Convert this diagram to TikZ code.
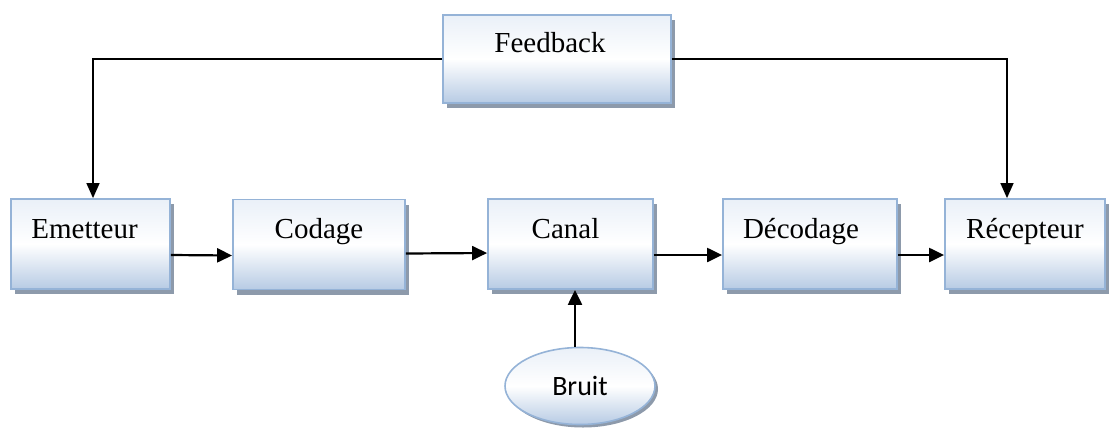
\documentclass[tikz,border=0pt]{standalone}
\usepackage{fontspec}
\setmainfont{Liberation Serif}
\newfontfamily\bruitfont{Carlito}
\usetikzlibrary{shapes.geometric,shadows,arrows.meta}
\definecolor{boxline}{HTML}{95B3D7}
\definecolor{boxfill}{HTML}{B7CBE4}
\definecolor{boxtop}{HTML}{EAF0F8}
\definecolor{shadowgray}{HTML}{8D9AAB}

\begin{document}
\begin{tikzpicture}[x=1pt,y=-1pt,
    bloc/.style={rectangle, draw=boxline, line width=1.8pt, top color=boxtop, bottom color=boxfill,
        middle color=white, inner sep=0pt, text height=39pt, text depth=51pt,
        font=\fontsize{29}{34}\selectfont,
        drop shadow={opacity=1, fill=shadowgray, shadow xshift=4pt, shadow yshift=-5pt}},
    conn/.style={line width=2.2pt, -{Triangle[length=15pt,width=14pt]}},
    retour/.style={line width=1.4pt, -{Triangle[length=15pt,width=13pt]}}]
		\useasboundingbox (0,0) rectangle (1114,429);

		\node[bloc, minimum width=228pt, text height=37pt, text depth=51pt] (fb) at (557,59){Feedback\hspace*{14pt}};

		\node[bloc, minimum width=159pt] (emet) at (90.5,244){Emetteur\hspace*{12pt}};
		\node[bloc, minimum width=172pt] (cod) at (319,244.5){Codage};
		\node[bloc, minimum width=165pt] (canal) at (570.5,244){Canal\hspace*{10pt}};
		\node[bloc, minimum width=174pt] (decod) at (810,244){D\'ecodage\hspace*{18pt}};
		\node[bloc, minimum width=160pt] (rec) at (1025,244){R\'ecepteur};

		\node[ellipse, draw=boxline, line width=1.6pt, top color=boxtop, bottom color=boxfill,
		    middle color=white, minimum width=150pt, minimum height=77pt, inner sep=0pt,
		    font=\bruitfont\fontsize{28}{34}\selectfont,
		    drop shadow={opacity=1, fill=shadowgray, shadow xshift=3pt, shadow yshift=-3pt}] (bruit) at (580,386){Bruit};

		\draw[conn] ([yshift=-11pt]emet.east) -- ([yshift=-11pt]cod.west);
		\draw[conn] ([yshift=-9pt]cod.east) -- ([yshift=-9pt]canal.west);
		\draw[conn] ([yshift=-11pt]canal.east) -- ([yshift=-11pt]decod.west);
		\draw[conn] ([yshift=-11pt]decod.east) -- ([yshift=-11pt]rec.west);

		\draw[conn] ([xshift=-5pt]bruit.north) -- ([xshift=-5pt]bruit.north |- canal.south);

		\draw[retour] (fb.west) -| ([xshift=2.5pt]emet.north);
		\draw[retour] (fb.east) -| ([xshift=-18pt]rec.north);
		\end{tikzpicture}
\end{document}
